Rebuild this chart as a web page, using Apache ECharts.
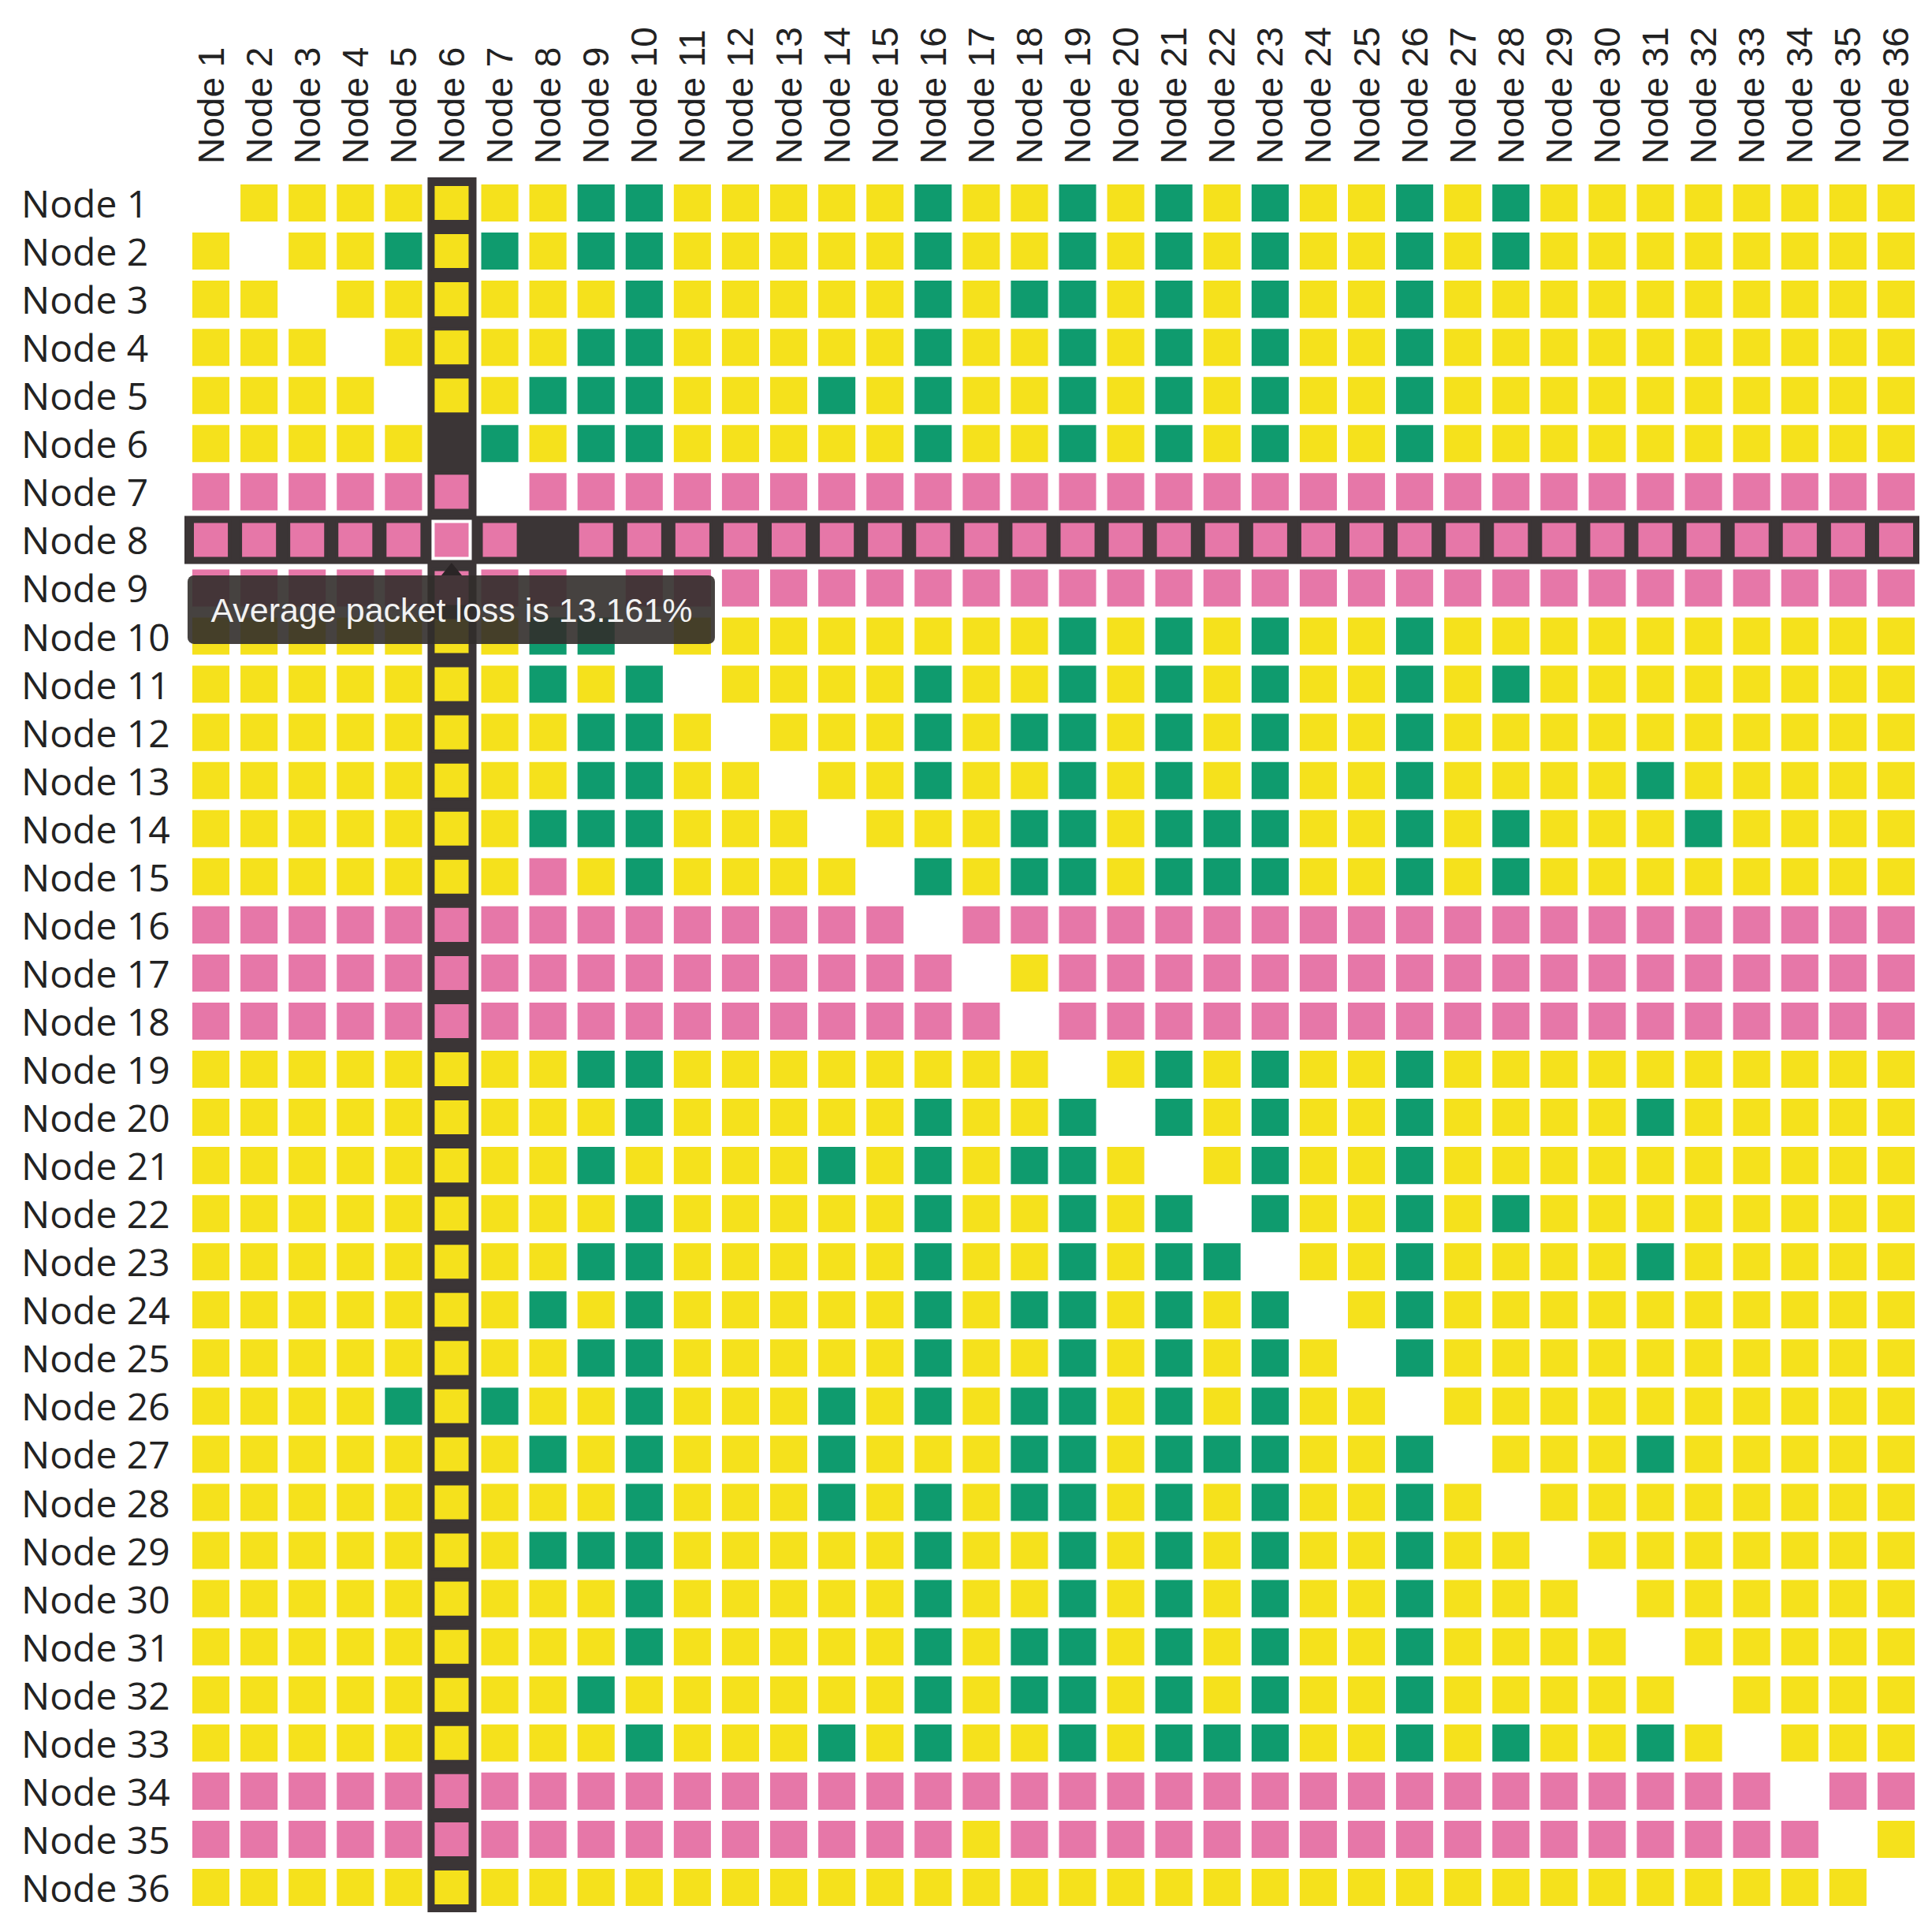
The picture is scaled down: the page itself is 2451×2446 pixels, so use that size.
<!DOCTYPE html>
<html>
<head>
<meta charset="utf-8">
<title>Packet loss matrix</title>
<script src="https://cdn.jsdelivr.net/npm/echarts@6/dist/echarts.min.js"></script>
<style>
    html, body { margin: 0; padding: 0; background: #fff; }
    #main { width: 2451px; height: 2446px; }
</style>
</head>
<body>
<div id="main"></div>
<script>
    // node names, used for both axes
    var nodeNames = ['Node 1', 'Node 2', 'Node 3', 'Node 4', 'Node 5', 'Node 6', 'Node 7', 'Node 8', 'Node 9',
        'Node 10', 'Node 11', 'Node 12', 'Node 13', 'Node 14', 'Node 15', 'Node 16', 'Node 17', 'Node 18',
        'Node 19', 'Node 20', 'Node 21', 'Node 22', 'Node 23', 'Node 24', 'Node 25', 'Node 26', 'Node 27',
        'Node 28', 'Node 29', 'Node 30', 'Node 31', 'Node 32', 'Node 33', 'Node 34', 'Node 35', 'Node 36'];

    // loss level per source row (G = low, Y = medium, P = high, . = self), columns in groups of 6
    var lossRows = [
        '.YYYYY YYGGYY YYYGYY GYGYGY YGYGYY YYYYYY',
        'Y.YYGY GYGGYY YYYGYY GYGYGY YGYGYY YYYYYY',
        'YY.YYY YYYGYY YYYGYG GYGYGY YGYYYY YYYYYY',
        'YYY.YY YYGGYY YYYGYY GYGYGY YGYYYY YYYYYY',
        'YYYY.Y YGGGYY YGYGYY GYGYGY YGYYYY YYYYYY',
        'YYYYY. GYGGYY YYYGYY GYGYGY YGYYYY YYYYYY',
        'PPPPPP .PPPPP PPPPPP PPPPPP PPPPPP PPPPPP',
        'PPPPPP P.PPPP PPPPPP PPPPPP PPPPPP PPPPPP',
        'PPPPPP PP.PPP PPPPPP PPPPPP PPPPPP PPPPPP',
        'YYYYYY YGG.YY YYYYYY GYGYGY YGYYYY YYYYYY',
        'YYYYYY YGYG.Y YYYGYY GYGYGY YGYGYY YYYYYY',
        'YYYYYY YYGGY. YYYGYG GYGYGY YGYYYY YYYYYY',
        'YYYYYY YYGGYY .YYGYY GYGYGY YGYYYY GYYYYY',
        'YYYYYY YGGGYY Y.YYYG GYGGGY YGYGYY YGYYYY',
        'YYYYYY YPYGYY YY.GYG GYGGGY YGYGYY YYYYYY',
        'PPPPPP PPPPPP PPP.PP PPPPPP PPPPPP PPPPPP',
        'PPPPPP PPPPPP PPPP.Y PPPPPP PPPPPP PPPPPP',
        'PPPPPP PPPPPP PPPPP. PPPPPP PPPPPP PPPPPP',
        'YYYYYY YYGGYY YYYYYY .YGYGY YGYYYY YYYYYY',
        'YYYYYY YYYGYY YYYGYY G.GYGY YGYYYY GYYYYY',
        'YYYYYY YYGYYY YGYGYG GY.YGY YGYYYY YYYYYY',
        'YYYYYY YYYGYY YYYGYY GYG.GY YGYGYY YYYYYY',
        'YYYYYY YYGGYY YYYGYY GYGG.Y YGYYYY GYYYYY',
        'YYYYYY YGYGYY YYYGYG GYGYG. YGYYYY YYYYYY',
        'YYYYYY YYGGYY YYYGYY GYGYGY .GYYYY YYYYYY',
        'YYYYGY GYYGYY YGYGYG GYGYGY Y.YYYY YYYYYY',
        'YYYYYY YGYGYY YGYYYG GYGGGY YG.YYY GYYYYY',
        'YYYYYY YYYGYY YGYGYG GYGYGY YGY.YY YYYYYY',
        'YYYYYY YGGGYY YYYGYY GYGYGY YGYY.Y YYYYYY',
        'YYYYYY YYYGYY YYYGYY GYGYGY YGYYY. YYYYYY',
        'YYYYYY YYYGYY YYYGYG GYGYGY YGYYYY .YYYYY',
        'YYYYYY YYGYYY YYYGYG GYGYGY YGYYYY Y.YYYY',
        'YYYYYY YYYGYY YGYGYY GYGGGY YGYGYY GY.YYY',
        'PPPPPP PPPPPP PPPPPP PPPPPP PPPPPP PPP.PP',
        'PPPPPP PPPPPP PPPPYP PPPPPP PPPPPP PPPP.Y',
        'YYYYYY YYYYYY YYYYYY YYYYYY YYYYYY YYYYY.'
    ];
    var levelOf = { G: 0, Y: 1, P: 2 };
    var levelColors = ['#0f9b6e', '#f5e11c', '#e677a8'];

    // hovered cell and its tooltip
    var selRowName = 'Node 8';
    var selColName = 'Node 6';
    var tipText = 'Average packet loss is 13.161%';

    var selRow = nodeNames.indexOf(selRowName);
    var selCol = nodeNames.indexOf(selColName);
    var darkColor = '#3b3536';
    var cellGap = 14;

    var cells = [];
    lossRows.forEach(function (row, r) {
        var s = row.replace(/ /g, '');
        for (var c = 0; c < s.length; c++) {
            var ch = s.charAt(c);
            if (ch === '.') continue;
            cells.push([c, r, levelOf[ch]]);
        }
    });

    function renderCross(params, api) {
        var cs = params.coordSys;
        var p = api.coord([api.value(0), api.value(1)]);
        var sz = api.size([1, 1]);
        return {
            type: 'group',
            children: [
                {type: 'rect', shape: {x: p[0] - sz[0] / 2, y: cs.y - 2, width: sz[0] + 1, height: cs.height + 3},
                    style: {fill: darkColor}},
                {type: 'rect', shape: {x: cs.x - 3, y: p[1] - sz[1] / 2, width: cs.width + 2, height: sz[1]},
                    style: {fill: darkColor}}
            ]
        };
    }

    function renderCell(params, api) {
        var x = api.value(0), y = api.value(1);
        var p = api.coord([x, y]);
        var sz = api.size([1, 1]);
        var w = sz[0] - cellGap, h = sz[1] - cellGap;
        var isSel = x === selCol && y === selRow;
        var inCross = x === selCol || y === selRow;
        var style = {fill: api.visual('color')};
        if (isSel) {
            style.stroke = '#ffffff';
            style.lineWidth = 4;
        } else if (inCross) {
            style.stroke = darkColor;
            style.lineWidth = 4;
        }
        return {
            type: 'rect',
            shape: {x: p[0] - w / 2, y: p[1] - h / 2, width: w, height: h},
            style: style
        };
    }

    var myChart = echarts.init(document.getElementById('main'), null, {renderer: 'svg'});
    var option = {
        animation: false,
        backgroundColor: '#ffffff',
        grid: {left: 237, right: 15, top: 227, bottom: 21, outerBoundsMode: 'none'},
        xAxis: {
            type: 'category',
            position: 'top',
            data: nodeNames,
            axisLine: {show: false},
            axisTick: {show: false},
            splitLine: {show: false},
            axisLabel: {
                interval: 0,
                rotate: -90,
                margin: 19,
                color: '#222',
                fontFamily: 'Liberation Sans',
                fontSize: 46
            }
        },
        yAxis: {
            type: 'category',
            inverse: true,
            data: nodeNames,
            axisLine: {show: false},
            axisTick: {show: false},
            splitLine: {show: false},
            axisLabel: {
                interval: 0,
                align: 'left',
                margin: 210,
                color: '#222',
                fontFamily: 'Open Sans',
                fontSize: 48
            }
        },
        visualMap: {
            type: 'piecewise',
            show: false,
            seriesIndex: 1,
            dimension: 2,
            pieces: [
                {value: 0, color: levelColors[0]},
                {value: 1, color: levelColors[1]},
                {value: 2, color: levelColors[2]}
            ]
        },
        series: [
            {
                name: 'cross',
                type: 'custom',
                z: 1,
                silent: true,
                data: [[selCol, selRow]],
                renderItem: renderCross
            },
            {
                name: 'loss',
                type: 'custom',
                z: 2,
                data: cells,
                encode: {x: 0, y: 1},
                renderItem: renderCell
            }
        ]
    };
    myChart.setOption(option);

    // tooltip of the hovered cell, placed under it
    var tp = myChart.convertToPixel({gridIndex: 0}, [selCol, selRow]);
    myChart.setOption({
        graphic: [
            {
                type: 'polygon',
                z: 100,
                shape: {points: [[tp[0], tp[1] + 29], [tp[0] - 13, tp[1] + 45], [tp[0] + 13, tp[1] + 45]]},
                style: {fill: '#2a2526'}
            },
            {
                type: 'rect',
                z: 100,
                shape: {x: tp[0] - 335, y: tp[1] + 45, width: 669, height: 87, r: 8},
                style: {fill: 'rgba(50,45,43,0.9)'}
            },
            {
                type: 'text',
                z: 101,
                x: tp[0],
                y: tp[1] + 89,
                style: {
                    text: tipText,
                    fill: '#f2f2f2',
                    fontFamily: 'Liberation Sans',
                    fontSize: 43,
                    align: 'center',
                    verticalAlign: 'middle',
                    textAlign: 'center',
                    textVerticalAlign: 'middle'
                }
            }
        ]
    });
</script>
</body>
</html>
